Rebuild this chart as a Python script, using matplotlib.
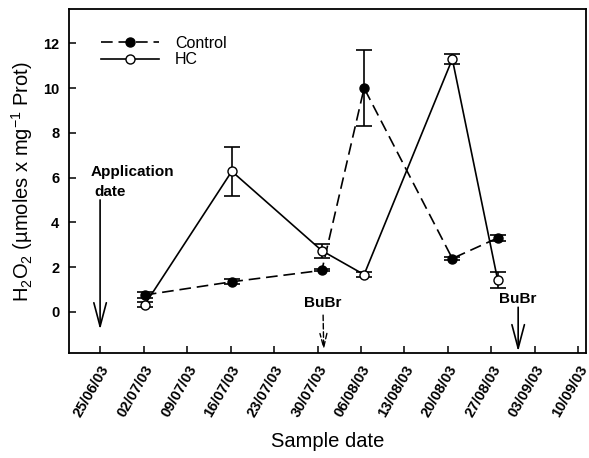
import numpy as np
import matplotlib.pyplot as plt

plt.rcParams['font.family'] = ['Liberation Sans', 'DejaVu Sans']
plt.rcParams['mathtext.fontset'] = 'custom'
plt.rcParams['mathtext.rm'] = 'Liberation Sans'

# sample days counted from 25/06/03
days = [7.2, 21.2, 35.7, 42.5, 56.7, 64.0]
control = [0.75, 1.34, 1.85, 10.0, 2.38, 3.3]
control_err = [0.15, 0.12, 0.05, 1.7, 0.05, 0.13]
hc = [0.32, 6.28, 2.73, 1.66, 11.3, 1.42]
hc_err = [0.12, 1.1, 0.32, 0.12, 0.24, 0.35]

tick_days = [0, 7, 14, 21, 28, 35, 42, 49, 56, 63, 70, 77]
tick_labels = ['25/06/03', '02/07/03', '09/07/03', '16/07/03', '23/07/03', '30/07/03',
               '06/08/03', '13/08/03', '20/08/03', '27/08/03', '03/09/03', '10/09/03']

fig = plt.figure(figsize=(5.89, 4.58), dpi=100)
ax = fig.add_axes([0.1172, 0.229, 0.8775, 0.751])

ax.errorbar(days, control, yerr=control_err, color='black', lw=1.2, dashes=(7, 3.5),
            marker='o', ms=6.5, mfc='black', mec='black', capsize=5.5, capthick=1.2,
            elinewidth=1.2, label='Control')
ax.errorbar(days, hc, yerr=hc_err, color='black', lw=1.2,
            marker='o', ms=6.5, mfc='white', mec='black', capsize=5.5, capthick=1.2,
            elinewidth=1.2, label='HC')

# annotations
big_head = dict(arrowstyle='->,head_length=1.7,head_width=0.45', color='black', lw=1.2,
                shrinkA=0, shrinkB=0)
ax.annotate('', xy=(0, -0.8), xytext=(0, 5.0), arrowprops=big_head)
ax.text(-1.6, 6.25, 'Application', fontsize=11, fontweight='bold', ha='left', va='center')
ax.text(-1.0, 5.35, 'date', fontsize=11, fontweight='bold', ha='left', va='center')

ax.text(35.9, 0.4, 'BuBr', fontsize=11, fontweight='bold', ha='center', va='center')
ax.annotate('', xy=(36.0, -1.72), xytext=(35.9, -0.15),
            arrowprops=dict(arrowstyle='->,head_length=1.0,head_width=0.25', color='black',
                            lw=1.0, linestyle=(0, (4, 2)), shrinkA=0, shrinkB=0))
ax.text(67.3, 0.55, 'BuBr', fontsize=11, fontweight='bold', ha='center', va='center')
ax.annotate('', xy=(67.3, -1.78), xytext=(67.3, 0.2), arrowprops=big_head)

ax.set_xlim(-5, 78.2)
ax.set_ylim(-1.85, 13.53)
ax.set_xticks(tick_days)
ax.set_xticklabels(tick_labels, rotation=60, ha='right', rotation_mode='anchor',
                   fontsize=10.5, fontweight='bold')
ax.set_yticks([0, 2, 4, 6, 8, 10, 12])
for t in ax.get_yticklabels():
    t.set_fontweight('bold')
    t.set_fontsize(10.5)
ax.tick_params(direction='in', length=5, width=1.1, pad=7)
for s in ax.spines.values():
    s.set_linewidth(1.3)

ax.set_xlabel('Sample date', fontsize=14.5, labelpad=9)
ax.set_ylabel(r'H$_2$O$_2$ (µmoles x mg$^{-1}$ Prot)', fontsize=14.5, labelpad=6)

handles, labels = ax.get_legend_handles_labels()
handles = [h[0] for h in handles]
ax.legend(handles, labels, loc='upper left', frameon=False, fontsize=11.5, handlelength=3.6,
          bbox_to_anchor=(0.035, 0.965), labelspacing=0.1, handletextpad=1.0)

fig.savefig('out.png', dpi=100)
